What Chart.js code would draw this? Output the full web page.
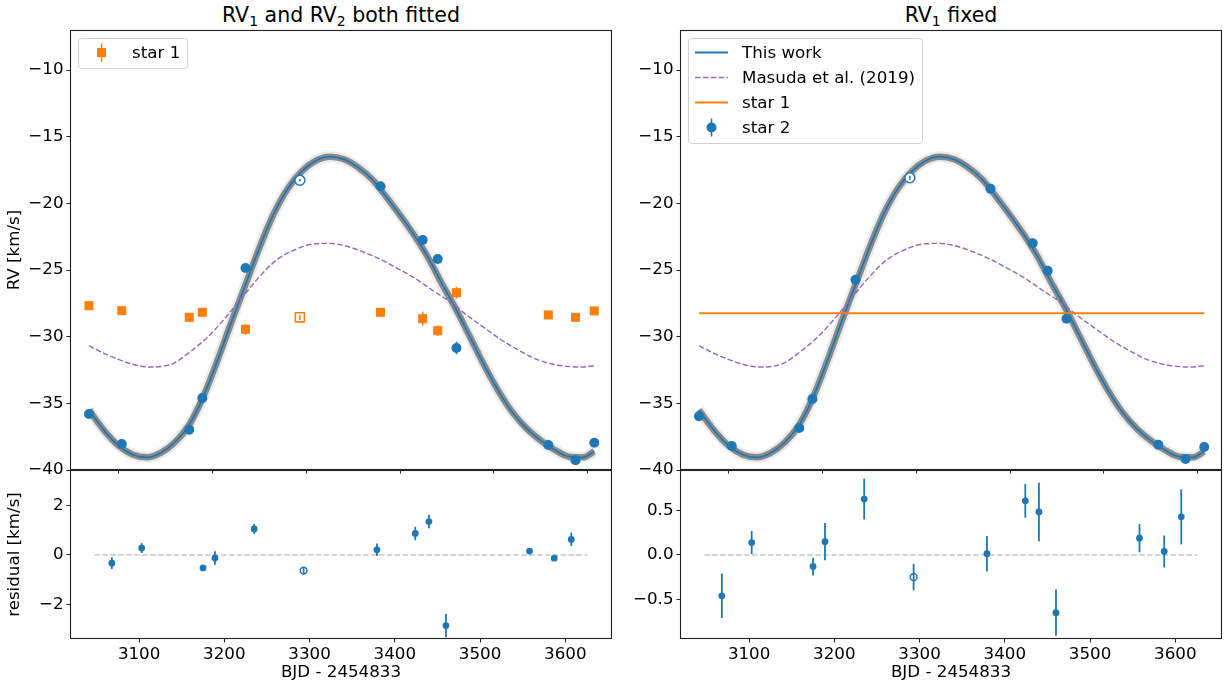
<!DOCTYPE html>
<html>
<head>
<meta charset="utf-8">
<script src="https://cdn.jsdelivr.net/npm/chart.js@4.4.1/dist/chart.umd.min.js"></script>
<style>
  html, body { margin: 0; padding: 0; background: #fff; overflow: hidden; width: 1228px; height: 683px; }
  canvas { position: absolute; }
  .title { position: absolute; font-family: 'DejaVu Sans'; font-size: 20.5px; line-height: 20px;
           color: #000; text-align: center; white-space: nowrap; }
  .title sub { font-size: 14px; vertical-align: -4px; line-height: 0; }
</style>
</head>
<body>
<div class="title" style="left:70px;width:542px;top:5px">RV<sub>1</sub> and RV<sub>2</sub> both fitted</div>
<div class="title" style="left:680px;width:542px;top:5px">RV<sub>1</sub> fixed</div>
<canvas id="rvBoth"></canvas>
<canvas id="rvFixed"></canvas>
<canvas id="residBothChart"></canvas>
<canvas id="residFixedChart"></canvas>
<script>
// ---- observations (BJD - 2454833) ----
const obsTime = [3068, 3103, 3175, 3189, 3235, 3293, 3379, 3424, 3440, 3460, 3558, 3587, 3607];
const excludedIndex = 5; // epoch shown with an open marker

// RV1 and RV2 both fitted
const rv1Both    = [-27.68, -28.05, -28.55, -28.17, -29.45, -28.55, -28.17, -28.65, -29.55, -26.70, -28.37, -28.55, -28.07];
const rv1BothErr = [0.20, 0.20, 0.20, 0.20, 0.41, 0.20, 0.20, 0.53, 0.40, 0.46, 0.20, 0.20, 0.20];
const rv2Both    = [-35.80, -38.05, -36.98, -34.60, -24.85, -18.27, -18.72, -22.75, -24.17, -30.85, -38.12, -39.27, -37.95];
const rv2BothErr = [0.24, 0.20, 0.10, 0.27, 0.20, 0.10, 0.25, 0.27, 0.27, 0.47, 0.10, 0.10, 0.27];
const residBoth    = [-0.33, 0.28, -0.52, -0.12, 1.05, -0.63, 0.21, 0.87, 1.35, -2.85, 0.16, -0.13, 0.63];
const residBothErr = [0.24, 0.20, 0.10, 0.27, 0.20, 0.10, 0.25, 0.27, 0.27, 0.47, 0.10, 0.10, 0.27];

// RV1 fixed
const rv1Fixed = -28.25;
const rv2Fixed    = [-35.97, -38.20, -36.85, -34.67, -25.73, -18.08, -18.90, -23.00, -25.05, -28.65, -38.10, -39.17, -38.27];
const rv2FixedErr = [0.25, 0.13, 0.10, 0.21, 0.23, 0.15, 0.20, 0.19, 0.33, 0.26, 0.16, 0.18, 0.31];
const residFixed    = [-0.46, 0.14, -0.13, 0.15, 0.63, -0.25, 0.015, 0.61, 0.485, -0.65, 0.19, 0.04, 0.43];
const residFixedErr = [0.25, 0.13, 0.10, 0.21, 0.23, 0.15, 0.20, 0.19, 0.33, 0.26, 0.16, 0.18, 0.31];

// ---- orbit models ----
const modelTime = [3068, 3085, 3100, 3115, 3130, 3145, 3160, 3175, 3190, 3205, 3220, 3235, 3250, 3265, 3280, 3295,
                   3310, 3325, 3340, 3355, 3370, 3385, 3400, 3415, 3430, 3445, 3460, 3475, 3490, 3505, 3520, 3535,
                   3550, 3565, 3580, 3595, 3607];
const modelRV   = [-35.5, -37.1, -38.2, -38.85, -39.05, -38.7, -37.9, -36.6, -34.5, -31.8, -28.9, -26.1, -23.3, -20.8, -18.9, -17.6,
                   -16.8, -16.5, -16.7, -17.3, -18.2, -19.5, -20.9, -22.4, -24.1, -26.1, -28.0, -30.1, -32.2, -34.1, -35.7, -36.9,
                   -37.8, -38.5, -39.0, -39.05, -38.6];
const masudaTime = [3068, 3084, 3103, 3121, 3136, 3158, 3176, 3195, 3213, 3232, 3250, 3268, 3287, 3305, 3324, 3342,
                    3360, 3379, 3397, 3416, 3434, 3453, 3471, 3489, 3508, 3526, 3545, 3563, 3582, 3593, 3607];
const masudaRV   = [-30.68, -31.25, -31.8, -32.18, -32.28, -32.0, -31.13, -30.0, -28.63, -27.0, -25.5, -24.25, -23.5, -23.07, -23.0, -23.2,
                    -23.63, -24.2, -24.88, -25.63, -26.5, -27.38, -28.38, -29.3, -30.25, -31.0, -31.68, -32.07, -32.25, -32.28, -32.18];

// ---- ticks and axis ranges ----
const timeTicks = [3100, 3200, 3300, 3400, 3500, 3600];
const rvTicks = [-40, -35, -30, -25, -20, -15, -10];
const residTicksBoth = [-2, 0, 2];
const residTicksFixed = [-0.5, 0.0, 0.5];
const topTimeRange = [3047.8, 3625.9];
const bottomTimeRange = [3018.9, 3654.8];
const rvRange = [-40, -7];
const residRangeBoth = [-3.39, 3.43];
const residRangeFixed = [-0.947, 0.958];

// ---- styling ----
const BLUE = '#1f77b4', ORANGE = '#ff7f0e', PURPLE = '#9467bd';
const AXIS_COLOR = '#222';
const FONT = 16.7;
Chart.defaults.font.family = "'DejaVu Sans'";
Chart.defaults.font.size = FONT;
Chart.defaults.color = '#000';

const pts = (xs, ys) => xs.map((x, i) => ({ x: x, y: ys[i] }));
const minus = s => String(s).replace('-', '\u2212');
const openFill = (color) => obsTime.map((_, i) => i === excludedIndex ? '#ffffff' : color);

// vertical error bars drawn through the chart's own y scale
const errorBarPlugin = {
  id: 'errorBars',
  afterDatasetDraw(chart, args) {
    const ds = chart.data.datasets[args.index];
    if (!ds.errors) return;
    const ys = chart.scales.y, a = chart.chartArea, ctx = chart.ctx;
    ctx.save();
    ctx.beginPath();
    ctx.rect(a.left, a.top, a.right - a.left, a.bottom - a.top);
    ctx.clip();
    ctx.strokeStyle = ds.errorColor;
    ctx.lineWidth = ds.errorWidth;
    args.meta.data.forEach((el, i) => {
      const v = ds.data[i].y, e = ds.errors[i];
      ctx.beginPath();
      ctx.moveTo(el.x, ys.getPixelForValue(v - e));
      ctx.lineTo(el.x, ys.getPixelForValue(v + e));
      ctx.stroke();
    });
    ctx.restore();
  }
};

// full rectangular frame round each panel
const framePlugin = {
  id: 'frame',
  afterDraw(chart) {
    const a = chart.chartArea, ctx = chart.ctx;
    ctx.save();
    ctx.strokeStyle = AXIS_COLOR;
    ctx.lineWidth = 1.1;
    ctx.strokeRect(Math.round(a.left) + 0.5, Math.round(a.top) + 0.5,
                   Math.round(a.right - a.left) - 1, Math.round(a.bottom - a.top) - 1);
    ctx.restore();
  }
};

// legend entries per panel
const legendItems = {
  rvBoth: [ { label: 'star 1', kind: 'square', color: ORANGE } ],
  rvFixed: [
    { label: 'This work', kind: 'line', color: BLUE },
    { label: 'Masuda et al. (2019)', kind: 'dashed', color: PURPLE },
    { label: 'star 1', kind: 'line', color: ORANGE },
    { label: 'star 2', kind: 'circle', color: BLUE }
  ]
};

const legendPlugin = {
  id: 'panelLegend',
  afterDraw(chart) {
    const items = legendItems[chart.canvas.id];
    if (!items) return;
    const a = chart.chartArea, ctx = chart.ctx;
    const x0 = a.left + 8, y0 = a.top + 8;
    ctx.save();
    ctx.font = FONT + "px 'DejaVu Sans'";
    const tw = Math.max(...items.map(it => ctx.measureText(it.label).width));
    const w = 53 + tw + 8, h = items.length * 25 + 5;
    ctx.beginPath();
    ctx.roundRect(x0 + 0.5, y0 + 0.5, w, h, 3);
    ctx.fillStyle = 'rgba(255,255,255,0.8)';
    ctx.fill();
    ctx.strokeStyle = 'rgba(204,204,204,0.9)';
    ctx.lineWidth = 1;
    ctx.stroke();
    items.forEach((it, i) => {
      const cy = y0 + 14.5 + i * 25;
      const hx0 = x0 + 7, hx1 = x0 + 40, hc = (hx0 + hx1) / 2;
      ctx.strokeStyle = it.color;
      ctx.fillStyle = it.color;
      if (it.kind === 'line' || it.kind === 'dashed') {
        ctx.lineWidth = it.kind === 'dashed' ? 1.4 : 1.8;
        ctx.setLineDash(it.kind === 'dashed' ? [5.5, 2.4] : []);
        ctx.beginPath(); ctx.moveTo(hx0, cy); ctx.lineTo(hx1, cy); ctx.stroke();
        ctx.setLineDash([]);
      } else {
        ctx.lineWidth = 1.5;
        ctx.beginPath(); ctx.moveTo(hc, cy - 9); ctx.lineTo(hc, cy + 9); ctx.stroke();
        ctx.beginPath();
        if (it.kind === 'square') ctx.rect(hc - 4.5, cy - 4.5, 9, 9);
        else ctx.arc(hc, cy, 5, 0, Math.PI * 2);
        ctx.fill();
      }
      ctx.fillStyle = '#000';
      ctx.textBaseline = 'middle';
      ctx.textAlign = 'left';
      ctx.fillText(it.label, x0 + 54, cy + 1);
    });
    ctx.restore();
  }
};

function timeAxis(range, withLabels, size) {
  return {
    type: 'linear', position: 'bottom', min: range[0], max: range[1],
    afterBuildTicks: ax => { ax.ticks = timeTicks.map(v => ({ value: v })); },
    afterFit: ax => { ax.height = size; },
    grid: { drawOnChartArea: false, drawTicks: true, tickLength: 3.5, color: AXIS_COLOR, lineWidth: 1 },
    border: { display: false },
    ticks: { display: withLabels, padding: 2, maxRotation: 0, autoSkip: false, color: '#000',
             callback: v => String(v) },
    title: withLabels ? { display: true, text: 'BJD - 2454833', color: '#000', padding: { top: 0, bottom: 0 } }
                      : { display: false }
  };
}

function valueAxis(range, tickList, fmt, titleText, width) {
  return {
    type: 'linear', position: 'left', min: range[0], max: range[1],
    afterBuildTicks: ax => { ax.ticks = tickList.map(v => ({ value: v })); },
    afterFit: ax => { ax.width = width; },
    grid: { drawOnChartArea: false, drawTicks: true, tickLength: 3.5, color: AXIS_COLOR, lineWidth: 1 },
    border: { display: false },
    ticks: { padding: 3, color: '#000', autoSkip: false, callback: fmt },
    title: titleText ? { display: true, text: titleText, color: '#000', padding: { top: 5, bottom: 0 } }
                     : { display: false }
  };
}

// area = chart area in page pixels; margin = space kept round it on the canvas
function panel(id, area, margin, datasets, xAxis, yAxis) {
  const c = document.getElementById(id);
  const w = area.r - area.l + margin.l + margin.r;
  const h = area.b - area.t + margin.t + margin.b;
  c.width = w; c.height = h;
  c.style.width = w + 'px'; c.style.height = h + 'px';
  c.style.left = (area.l - margin.l) + 'px';
  c.style.top = (area.t - margin.t) + 'px';
  return new Chart(c, {
    type: 'scatter',
    data: { datasets: datasets },
    options: {
      responsive: false, maintainAspectRatio: false, animation: false, events: [],
      layout: { padding: { top: margin.t, right: margin.r, left: 0, bottom: 0 } },
      plugins: { legend: { display: false }, tooltip: { enabled: false } },
      scales: { x: xAxis, y: yAxis }
    },
    plugins: [errorBarPlugin, framePlugin, legendPlugin]
  });
}

function modelSets(order) {
  const curve = pts(modelTime, modelRV);
  return [
    { type: 'line', data: curve, borderColor: 'rgba(185,185,185,0.3)', borderWidth: 11, pointRadius: 0,
      cubicInterpolationMode: 'monotone', order: order + 3 },
    { type: 'line', data: curve, borderColor: 'rgba(105,105,105,0.75)', borderWidth: 6.5, pointRadius: 0,
      cubicInterpolationMode: 'monotone', order: order + 2 },
    { type: 'line', data: curve, borderColor: BLUE, borderWidth: 1.7, pointRadius: 0,
      cubicInterpolationMode: 'monotone', order: order + 1 },
    { type: 'line', data: pts(masudaTime, masudaRV), borderColor: PURPLE, borderWidth: 1.4, borderDash: [5.5, 2.4],
      pointRadius: 0, cubicInterpolationMode: 'monotone', order: order }
  ];
}

function star2Set(values, errors, radius, width) {
  return {
    type: 'scatter', data: pts(obsTime, values), errors: errors, errorColor: BLUE, errorWidth: width,
    pointStyle: 'circle', pointRadius: radius, pointBorderWidth: obsTime.map((_, i) => i === excludedIndex ? 1.5 : 0),
    pointBorderColor: BLUE, pointBackgroundColor: openFill(BLUE), order: 0
  };
}

function zeroLine() {
  return { type: 'line', data: pts(topTimeRange, [0, 0]), borderColor: '#c8c8c8', borderWidth: 1.5,
           borderDash: [5.5, 2.4], pointRadius: 0, order: 5 };
}

const rvFmt = v => minus(v);

// top left: both components fitted
panel('rvBoth', { l: 70, t: 30, r: 612, b: 470 }, { l: 70, t: 20, r: 20, b: 20 }, [
  {
    type: 'scatter', data: pts(obsTime, rv1Both), errors: rv1BothErr, errorColor: ORANGE, errorWidth: 1.5,
    pointStyle: 'rect', pointRadius: 6.4, pointBorderWidth: obsTime.map((_, i) => i === excludedIndex ? 1.6 : 0),
    pointBorderColor: ORANGE, pointBackgroundColor: openFill(ORANGE), order: 1
  },
  star2Set(rv2Both, rv2BothErr, 5, 1.5),
  ...modelSets(2)
], timeAxis(topTimeRange, false, 20), valueAxis(rvRange, rvTicks, rvFmt, 'RV [km/s]', 70));

// top right: star 1 held at a constant velocity
panel('rvFixed', { l: 680, t: 30, r: 1222, b: 470 }, { l: 70, t: 20, r: 20, b: 20 }, [
  star2Set(rv2Fixed, rv2FixedErr, 5, 1.5),
  { type: 'line', data: pts([obsTime[0], obsTime[obsTime.length - 1]], [rv1Fixed, rv1Fixed]),
    borderColor: ORANGE, borderWidth: 2, pointRadius: 0, order: 1 },
  ...modelSets(2)
], timeAxis(topTimeRange, false, 20), valueAxis(rvRange, rvTicks, rvFmt, null, 70));

// residual panels
panel('residBothChart', { l: 70, t: 470, r: 612, b: 639 }, { l: 70, t: 20, r: 20, b: 44 }, [
  star2Set(residBoth, residBothErr, 3.4, 1.8),
  zeroLine()
], timeAxis(bottomTimeRange, true, 44), valueAxis(residRangeBoth, residTicksBoth, v => minus(v), 'residual [km/s]', 70));

panel('residFixedChart', { l: 680, t: 470, r: 1222, b: 639 }, { l: 70, t: 20, r: 20, b: 44 }, [
  star2Set(residFixed, residFixedErr, 3.4, 1.8),
  zeroLine()
], timeAxis(bottomTimeRange, true, 44), valueAxis(residRangeFixed, residTicksFixed, v => minus(Number(v).toFixed(1)), null, 70));
</script>
</body>
</html>
